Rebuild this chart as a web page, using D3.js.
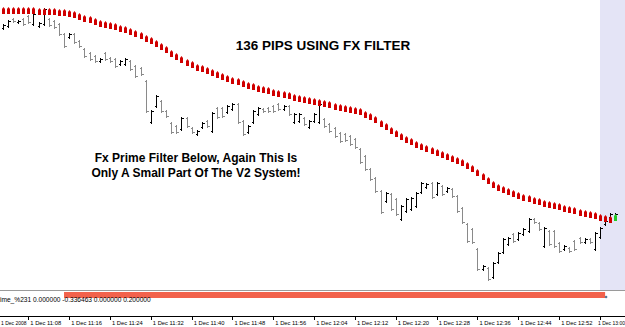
<!DOCTYPE html>
<html><head><meta charset="utf-8">
<script src="https://cdn.jsdelivr.net/npm/d3@7"></script>
<style>html,body{margin:0;padding:0;background:#fff;overflow:hidden}</style>
</head><body><svg id="chart" width="625" height="327"></svg>
<script>
// ---- data ----
const firstBarTime = "2008-12-01T11:03:00";
const openP = [1.5072,1.5074,1.5081,1.5078,1.5081,1.5084,1.5076,1.5074,1.5076,1.5081,
1.5079,1.5076,1.5066,1.5063,1.5066,1.5059,1.5051,1.5047,1.5044,1.5039,
1.5047,1.5042,1.5041,1.5036,1.5036,1.5039,1.5034,1.5032,1.5019,1.4978,
1.4994,1.4999,1.4989,1.4977,1.4974,1.4971,1.4982,1.4972,1.4966,1.4973,
1.4979,1.4969,1.4992,1.4992,1.4988,1.4991,1.4996,1.4979,1.4968,1.4978,
1.4986,1.4991,1.4992,1.4994,1.4996,1.4991,1.4994,1.4978,1.4979,1.4982,
1.4973,1.4979,1.4978,1.4981,1.4976,1.4972,1.4967,1.4966,1.4964,1.4961,
1.4951,1.4944,1.4931,1.4922,1.4909,1.4899,1.4906,1.4901,1.4881,1.4889,
1.4891,1.4894,1.4908,1.4913,1.4917,1.4906,1.4914,1.4909,1.4911,1.4904,
1.4892,1.4876,1.4871,1.4851,1.4831,1.4832,1.4823,1.4838,1.4848,1.4856,
1.4866,1.4861,1.4866,1.4869,1.4881,1.4877,1.4854,1.4869,1.4869,1.4857,
1.4851,1.4852,1.4859,1.4862,1.4858,1.4861,1.4851,1.4863,1.4876,1.4883,1.4883];
const highP = [1.5076,1.5080,1.5082,1.5080,1.5082,1.5085,1.5087,1.5078,1.5092,1.5082,
1.5080,1.5077,1.5067,1.5067,1.5067,1.5060,1.5052,1.5048,1.5045,1.5042,
1.5048,1.5043,1.5042,1.5040,1.5042,1.5040,1.5035,1.5033,1.5020,1.4990,
1.5005,1.5000,1.4990,1.4978,1.4975,1.4983,1.4983,1.4973,1.4970,1.4978,
1.4980,1.4988,1.4993,1.4993,1.4995,1.4997,1.4997,1.4980,1.4975,1.4990,
1.4993,1.4992,1.4993,1.4995,1.4997,1.4995,1.4995,1.4987,1.4987,1.4983,
1.4980,1.4987,1.4997,1.4982,1.4977,1.4973,1.4968,1.4967,1.4965,1.4962,
1.4952,1.4945,1.4932,1.4923,1.4910,1.4908,1.4907,1.4902,1.4895,1.4902,
1.4903,1.4908,1.4918,1.4917,1.4918,1.4918,1.4915,1.4913,1.4912,1.4905,
1.4893,1.4877,1.4872,1.4852,1.4835,1.4833,1.4838,1.4848,1.4862,1.4863,
1.4867,1.4868,1.4872,1.4882,1.4882,1.4878,1.4873,1.4870,1.4870,1.4858,
1.4855,1.4853,1.4860,1.4863,1.4862,1.4862,1.4868,1.4873,1.4880,1.4887,1.4887];
const lowP = [1.5071,1.5073,1.5078,1.5077,1.5075,1.5077,1.5075,1.5073,1.5075,1.5074,
1.5072,1.5065,1.5053,1.5062,1.5057,1.5053,1.5043,1.5040,1.5038,1.5038,
1.5040,1.5038,1.5033,1.5035,1.5035,1.5030,1.5023,1.5025,1.4988,1.4977,
1.4993,1.4988,1.4983,1.4967,1.4967,1.4970,1.4973,1.4967,1.4965,1.4972,
1.4973,1.4968,1.4982,1.4983,1.4987,1.4990,1.4977,1.4965,1.4967,1.4977,
1.4985,1.4988,1.4988,1.4988,1.4990,1.4990,1.4985,1.4977,1.4978,1.4975,
1.4972,1.4978,1.4977,1.4973,1.4968,1.4963,1.4958,1.4959,1.4955,1.4952,
1.4937,1.4930,1.4920,1.4908,1.4887,1.4898,1.4890,1.4885,1.4880,1.4888,
1.4890,1.4893,1.4907,1.4912,1.4902,1.4905,1.4905,1.4908,1.4903,1.4888,
1.4877,1.4858,1.4857,1.4830,1.4830,1.4820,1.4822,1.4837,1.4847,1.4855,
1.4858,1.4860,1.4865,1.4868,1.4877,1.4870,1.4853,1.4855,1.4853,1.4848,
1.4850,1.4848,1.4850,1.4857,1.4857,1.4857,1.4850,1.4862,1.4875,1.4882,1.4882];
const closeP = [1.5075,1.5079,1.5079,1.5079,1.5076,1.5078,1.5086,1.5077,1.5091,1.5075,
1.5073,1.5066,1.5054,1.5066,1.5058,1.5054,1.5044,1.5041,1.5039,1.5041,
1.5041,1.5039,1.5034,1.5039,1.5041,1.5031,1.5024,1.5026,1.4989,1.4989,
1.5004,1.4989,1.4984,1.4968,1.4968,1.4982,1.4974,1.4968,1.4969,1.4977,
1.4974,1.4987,1.4983,1.4984,1.4994,1.4996,1.4978,1.4966,1.4974,1.4989,
1.4992,1.4989,1.4989,1.4989,1.4991,1.4994,1.4986,1.4986,1.4986,1.4976,
1.4979,1.4986,1.4996,1.4974,1.4969,1.4964,1.4959,1.4960,1.4956,1.4953,
1.4938,1.4931,1.4921,1.4909,1.4888,1.4907,1.4891,1.4886,1.4894,1.4901,
1.4902,1.4907,1.4917,1.4916,1.4903,1.4917,1.4906,1.4912,1.4904,1.4889,
1.4878,1.4859,1.4858,1.4831,1.4834,1.4821,1.4837,1.4847,1.4861,1.4862,
1.4859,1.4867,1.4871,1.4881,1.4878,1.4871,1.4872,1.4856,1.4854,1.4849,
1.4854,1.4849,1.4851,1.4858,1.4861,1.4858,1.4867,1.4872,1.4879,1.4886,1.4886];
const filterP = [1.5089,1.5089,1.5089,1.5089,1.5089,1.5089,1.5089,1.5088,1.5088,1.5088,
1.5088,1.5087,1.5087,1.5086,1.5085,1.5083,1.5081,1.5080,1.5078,1.5076,
1.5075,1.5074,1.5073,1.5071,1.5070,1.5068,1.5066,1.5064,1.5061,1.5059,
1.5056,1.5053,1.5050,1.5046,1.5043,1.5040,1.5037,1.5035,1.5032,1.5031,
1.5029,1.5027,1.5025,1.5023,1.5021,1.5019,1.5018,1.5016,1.5014,1.5013,
1.5011,1.5010,1.5009,1.5007,1.5006,1.5005,1.5004,1.5002,1.5001,1.5000,
1.4999,1.4998,1.4997,1.4996,1.4995,1.4993,1.4992,1.4991,1.4990,1.4989,
1.4988,1.4985,1.4983,1.4980,1.4976,1.4973,1.4969,1.4966,1.4963,1.4960,
1.4958,1.4955,1.4953,1.4951,1.4949,1.4947,1.4945,1.4943,1.4941,1.4939,
1.4937,1.4934,1.4931,1.4927,1.4923,1.4919,1.4915,1.4912,1.4910,1.4908,
1.4906,1.4904,1.4902,1.4901,1.4899,1.4898,1.4896,1.4895,1.4894,1.4893,
1.4891,1.4890,1.4889,1.4887,1.4886,1.4885,1.4884,1.4882,1.4881,1.4880,1.4882];
const greenSignalIdx = [120];
const tickTimes = ["2008-12-01T11:00:00","2008-12-01T11:08:00","2008-12-01T11:16:00","2008-12-01T11:24:00",
"2008-12-01T11:32:00","2008-12-01T11:40:00","2008-12-01T11:48:00","2008-12-01T11:56:00",
"2008-12-01T12:04:00","2008-12-01T12:12:00","2008-12-01T12:20:00","2008-12-01T12:28:00",
"2008-12-01T12:36:00","2008-12-01T12:44:00","2008-12-01T12:52:00","2008-12-01T13:00:00"];
const tickLabels = ["1 Dec 2008","1 Dec 11:08","1 Dec 11:16","1 Dec 11:24","1 Dec 11:32","1 Dec 11:40",
"1 Dec 11:48","1 Dec 11:56","1 Dec 12:04","1 Dec 12:12","1 Dec 12:20","1 Dec 12:28",
"1 Dec 12:36","1 Dec 12:44","1 Dec 12:52","1 Dec 13:00"];
const titleText = "136 PIPS USING FX FILTER";
const noteLines = ["Fx Prime Filter Below, Again This Is","Only A Small Part Of The V2 System!"];
const indicatorLabel = "ime_%231 0.000000 -0.336463 0.000000 0.200000";
const indicatorSpan = ["2008-12-01T11:15:00","2008-12-01T13:01:00"];
const indicatorValue = 0.2;

// ---- chart ----
const W = 625, H = 327, mainBottom = 290, axisY = 316;
const parse = d3.timeParse("%Y-%m-%dT%H:%M:%S");
const t0 = parse(firstBarTime);
const svg = d3.select("#chart");

const x = d3.scaleTime()
  .domain([parse("2008-12-01T11:08:00"), parse("2008-12-01T13:00:00")])
  .range([28.3, 600]);
const y = d3.scaleLinear().domain([1.4810, 1.5100]).range([mainBottom, 0]);
const yInd = d3.scaleLinear().domain([0, 0.2]).range([298, 292]);

const bars = openP.map((o, i) => ({
  t: d3.timeMinute.offset(t0, i), o, h: highP[i], l: lowP[i], c: closeP[i], f: filterP[i], i
}));
const px = d => Math.round(x(d.t)) + 0.5;

// shift area (lavender)
svg.append("rect").attr("x", 600).attr("y", 0).attr("width", W - 600).attr("height", mainBottom)
  .attr("fill", "#e4e4f6");

// price bars
const g = svg.append("g").attr("shape-rendering", "crispEdges");
const bg = g.selectAll("g.bar").data(bars).join("g").attr("class", "bar")
  .attr("stroke", d => d.c >= d.o ? "#000000" : "#8a8a8a").attr("stroke-width", 1);
bg.append("line").attr("x1", px).attr("x2", px)
  .attr("y1", d => Math.round(y(d.h))).attr("y2", d => Math.round(y(d.l)) + 1);
bg.append("line").attr("x1", d => px(d) - 2).attr("x2", d => px(d))
  .attr("y1", d => Math.round(y(d.o)) + 0.5).attr("y2", d => Math.round(y(d.o)) + 0.5);
bg.append("line").attr("x1", d => px(d)).attr("x2", d => px(d) + 2)
  .attr("y1", d => Math.round(y(d.c)) + 0.5).attr("y2", d => Math.round(y(d.c)) + 0.5);

// filter markers (small arrow-topped blocks)
const markerPath = d => {
  const cx = Math.round(x(d.t)), cy = Math.round(y(d.f));
  return `M${cx - 1},${cy + 3}L${cx - 1},${cy - 2}L${cx + 0.5},${cy - 4}L${cx + 2},${cy - 2}L${cx + 2},${cy + 3}Z`;
};
svg.append("g").selectAll("path").data(bars).join("path")
  .attr("d", markerPath)
  .attr("fill", d => greenSignalIdx.includes(d.i) ? "#22cc22" : "#d00000");

// texts
svg.append("text").attr("x", 323).attr("y", 50).attr("text-anchor", "middle")
  .attr("font-family", "Liberation Sans, Arial, sans-serif").attr("font-weight", "bold")
  .attr("font-size", 13.5).attr("fill", "#000").text(titleText);
svg.append("g").selectAll("text").data(noteLines).join("text")
  .attr("x", 196).attr("y", (d, i) => 162 + i * 15).attr("text-anchor", "middle")
  .attr("font-family", "Liberation Sans, Arial, sans-serif").attr("font-weight", "bold")
  .attr("font-size", 12).attr("fill", "#000").text(d => d);

// separator between main window and indicator window
svg.append("line").attr("x1", 0).attr("x2", W).attr("y1", mainBottom + 0.5).attr("y2", mainBottom + 0.5)
  .attr("stroke", "#9a9a9a").attr("shape-rendering", "crispEdges");

// indicator histogram
const i0 = parse(indicatorSpan[0]), i1 = parse(indicatorSpan[1]);
svg.append("rect").attr("x", x(i0)).attr("width", x(i1) - x(i0))
  .attr("y", yInd(indicatorValue)).attr("height", yInd(0) - yInd(indicatorValue))
  .attr("fill", "#f2624c");
svg.append("circle").attr("cx", x(i1) + 1).attr("cy", 297).attr("r", 1.3).attr("fill", "#5a7896");
svg.append("text").attr("x", 0).attr("y", 301.5)
  .attr("font-family", "Liberation Sans, Arial, sans-serif").attr("font-size", 6.6)
  .attr("fill", "#000").text(indicatorLabel);

// time axis
const tv = tickTimes.map(parse);
const axis = d3.axisBottom(x).tickValues(tv).tickFormat((d, i) => tickLabels[i])
  .tickSize(4).tickSizeOuter(0);
const ag = svg.append("g").attr("transform", `translate(0,${axisY})`).call(axis);
ag.select(".domain").attr("d", `M0,0.5H${W}`).attr("stroke", "#000").attr("shape-rendering", "crispEdges");
ag.selectAll(".tick line").attr("stroke", "#000").attr("shape-rendering", "crispEdges");
const last = tickLabels.length - 1;
ag.selectAll(".tick text")
  .attr("text-anchor", (d, i) => i === last ? "end" : "start")
  .attr("x", (d, i) => i === 0 ? 0.5 - x(d) : (i === last ? W - x(d) - 0.5 : 1.5))
  .attr("y", 5).attr("dy", "0.71em")
  .attr("font-family", "Liberation Sans, Arial, sans-serif")
  .attr("font-size", (d, i) => (i === 0 || i === last) ? 5 : 5.8).attr("fill", "#000");
</script></body></html>
